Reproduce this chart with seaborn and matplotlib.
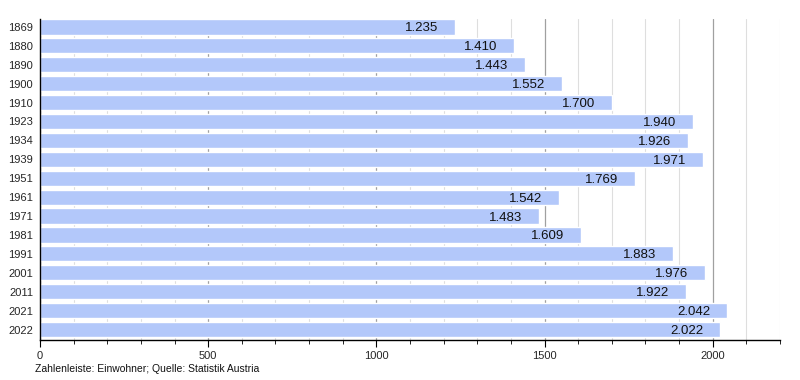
import matplotlib
matplotlib.use("Agg")
import matplotlib.pyplot as plt
import seaborn as sns
import pandas as pd
from matplotlib.ticker import MultipleLocator

years = ["1869", "1880", "1890", "1900", "1910", "1923", "1934", "1939", "1951",
         "1961", "1971", "1981", "1991", "2001", "2011", "2021", "2022"]
population = [1235, 1410, 1443, 1552, 1700, 1940, 1926, 1971, 1769,
              1542, 1483, 1609, 1883, 1976, 1922, 2042, 2022]
labels = ["1.235", "1.410", "1.443", "1.552", "1.700", "1.940", "1.926", "1.971", "1.769",
          "1.542", "1.483", "1.609", "1.883", "1.976", "1.922", "2.042", "2.022"]
footnote = "Zahlenleiste: Einwohner; Quelle: Statistik Austria"

df = pd.DataFrame({"year": years, "pop": population})

sns.set_theme(style="white")
plt.rcParams["font.family"] = ["Liberation Sans", "DejaVu Sans"]

fig = plt.figure(figsize=(8, 3.8), dpi=100)
ax = fig.add_axes([0.05, 0.105, 0.925, 0.845])

ax.xaxis.set_major_locator(MultipleLocator(500))
ax.xaxis.set_minor_locator(MultipleLocator(100))
ax.grid(which="major", axis="x", color="#a0a0a0", linewidth=0.9)
ax.grid(which="minor", axis="x", color="#dedede", linewidth=0.8)
ax.set_axisbelow(True)

sns.barplot(data=df, x="pop", y="year", orient="h", color="#b3c8fa",
            saturation=1, width=0.8, ax=ax)

for i, (v, lab) in enumerate(zip(population, labels)):
    ax.text(v - 50, i, lab, ha="right", va="center_baseline", fontsize=9.5, color="#111111")

ax.set_xlim(0, 2200)
ax.set_ylim(16.56, -0.42)
ax.set_xlabel("")
ax.set_ylabel("")
for s in ["top", "right"]:
    ax.spines[s].set_visible(False)
ax.spines["left"].set_color("black")
ax.spines["bottom"].set_color("black")
ax.spines["left"].set_linewidth(1)
ax.spines["bottom"].set_linewidth(1)
ax.tick_params(axis="x", which="major", direction="out", length=5, width=0.8,
               color="black", labelsize=8, pad=3, bottom=True)
ax.tick_params(axis="x", which="minor", direction="out", length=3, width=0.6,
               color="black", bottom=True)
ax.tick_params(axis="y", length=0, labelsize=8, pad=5)

fig.text(0.044, 0.028, footnote, fontsize=7.5, ha="left", va="center", color="#111111")

fig.savefig("out.png", dpi=100)
